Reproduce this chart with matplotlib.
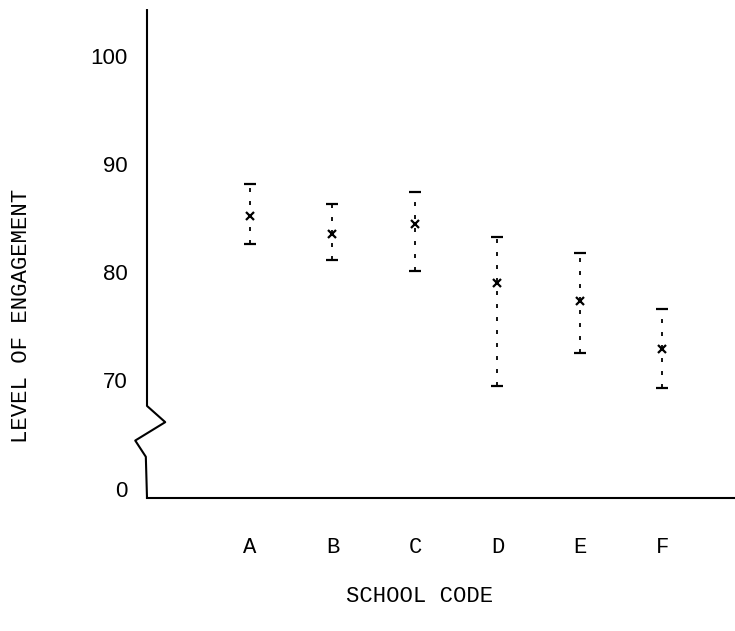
import matplotlib
matplotlib.use("Agg")
import matplotlib.pyplot as plt
import matplotlib.transforms as mtransforms

schools = ["A", "B", "C", "D", "E", "F"]
mean = [85.2, 83.5, 84.4, 79.0, 77.3, 72.9]
upper = [88.1, 86.3, 87.4, 83.2, 81.7, 76.6]
lower = [82.6, 81.1, 80.1, 69.4, 72.5, 69.3]

# broken axis: "0" is drawn just above the baseline, below the break
ytick_pos = [59.9, 70, 80, 90, 100]
ytick_lab = ["0", "70", "80", "90", "100"]

mono = "Liberation Mono"
sans = "Liberation Sans"

fig = plt.figure(figsize=(7.35, 6.31), dpi=100)
ax = fig.add_axes([0.2, 0.211, 0.8, 0.773])
x = list(range(len(schools)))

ax.vlines(x, lower, upper, colors="black", linewidth=1.3, linestyles=(0, (2.2, 5.0)))
ax.plot(x, upper, ls="none", marker="_", ms=8, mew=1.6, color="black")
ax.plot(x, lower, ls="none", marker="_", ms=8, mew=1.6, color="black")
ax.plot(x, mean, ls="none", marker="x", ms=5.5, mew=1.6, color="black")

ax.set_xlim(-1.248, 5.879)
ax.set_ylim(59.1, 104.2)

for s in ("top", "right", "left"):
    ax.spines[s].set_visible(False)
ax.spines["bottom"].set_linewidth(1.5)

# left axis with a zig-zag break, x in axes fraction, y in data units
tr = mtransforms.blended_transform_factory(ax.transAxes, ax.transData)
bx = [0.0, 0.0, 0.031, -0.020, -0.002, 0.0]
by = [104.2, 67.6, 66.1, 64.4, 62.9, 59.1]
ax.plot(bx, by, color="black", lw=1.5, transform=tr, clip_on=False)

ax.set_xticks(x)
ax.set_xticklabels(schools, fontfamily=mono, fontsize=16)
ax.set_yticks(ytick_pos)
ax.set_yticklabels(ytick_lab, fontfamily=sans, fontsize=16)
ax.tick_params(axis="x", length=0, pad=28)
ax.tick_params(axis="y", length=0, pad=14)

fig.text(22 / 735, 1 - 316 / 631, "LEVEL OF ENGAGEMENT", rotation=90,
         ha="center", va="center", fontfamily=mono, fontsize=16)
fig.text(420 / 735, 1 - 597 / 631, "SCHOOL CODE",
         ha="center", va="center", fontfamily=mono, fontsize=16)

fig.savefig("out.png", dpi=100)
